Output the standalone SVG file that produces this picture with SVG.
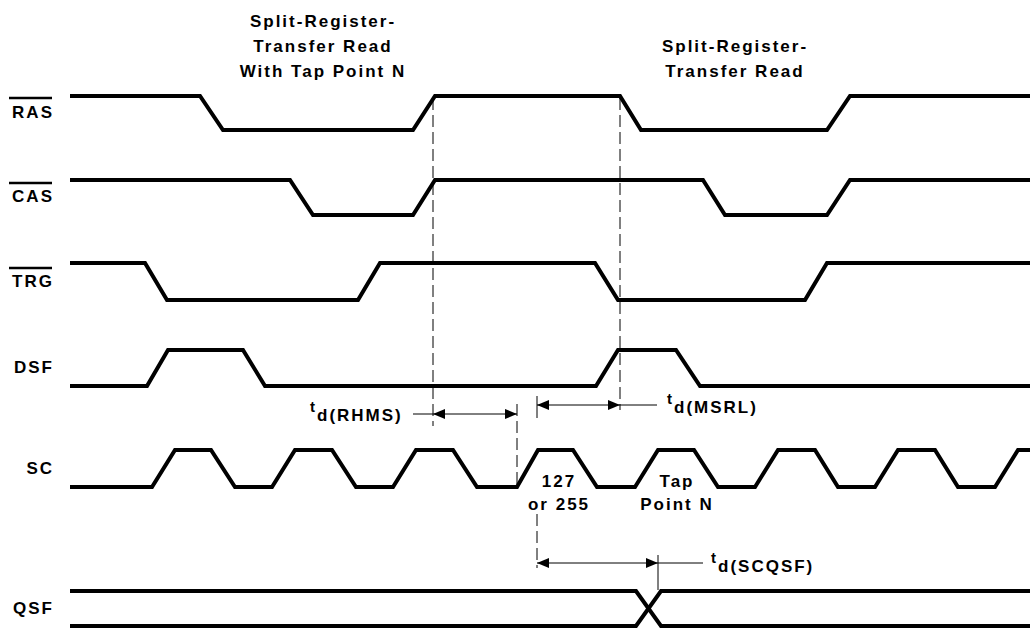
<svg xmlns="http://www.w3.org/2000/svg" width="1030" height="628" viewBox="0 0 1030 628">
<style>
text{font-family:"Liberation Sans",Arial,sans-serif;font-weight:bold;font-size:17px;letter-spacing:2px;fill:#000}
.sig{fill:none;stroke:#000;stroke-width:4;stroke-linejoin:miter}
.ov{stroke:#000;stroke-width:2.5}
.dash{stroke:#000;stroke-width:1;stroke-dasharray:12 5;fill:none}
.tick{stroke:#000;stroke-width:1;fill:none}
.dim{stroke:#000;stroke-width:1;fill:none}
.mid{text-anchor:middle}
.end{text-anchor:end}
.t{font-size:15px}
</style>
<defs>
<marker id="ah" viewBox="0 0 12 10" refX="12" refY="5" markerWidth="12" markerHeight="10" markerUnits="userSpaceOnUse" orient="auto-start-reverse">
<path d="M0,0 L12,5 L0,10 z" fill="#000"/>
</marker>
</defs>
<rect width="1030" height="628" fill="#fff"/>

<g id="titles">
<text class="mid" x="323" y="27">Split-Register-</text>
<text class="mid" x="323" y="52">Transfer Read</text>
<text class="mid" x="323" y="77">With Tap Point N</text>
<text class="mid" x="735" y="52">Split-Register-</text>
<text class="mid" x="735" y="77">Transfer Read</text>
</g>

<g id="RAS">
<line class="ov" x1="9" y1="98" x2="52" y2="98"/>
<text class="end" x="54" y="118">RAS</text>
<path class="sig" d="M70,96 L200,96 L223,130 L413,130 L435,96 L620,96 L641,130 L827,130 L850,96 L1030,96"/>
</g>
<g id="CAS">
<line class="ov" x1="9" y1="183" x2="52" y2="183"/>
<text class="end" x="54" y="202">CAS</text>
<path class="sig" d="M70,180 L290,180 L313,215 L413,215 L435,180 L703,180 L725,215 L827,215 L850,180 L1030,180"/>
</g>
<g id="TRG">
<line class="ov" x1="9" y1="268" x2="52" y2="268"/>
<text class="end" x="54" y="287">TRG</text>
<path class="sig" d="M70,263 L145,263 L167,300 L358,300 L380,263 L595,263 L618,300 L805,300 L827,263 L1030,263"/>
</g>
<g id="DSF">
<text class="end" x="54" y="373">DSF</text>
<path class="sig" d="M70,386 L147,386 L168,350 L243,350 L265,386 L596,386 L618,350 L676,350 L700,386 L1030,386"/>
</g>
<g id="SC">
<text class="end" x="54" y="474">SC</text>
<path class="sig" d="M70,487 L152,487 L175,450 L211,450 L235,487 L272,487 L295,450 L332,450 L356,487 L393,487 L416,450 L453,450 L477,487 L517,487 L538,450 L573,450 L597,487 L635,487 L658,450 L694,450 L718,487 L755,487 L778,450 L815,450 L838,487 L875,487 L898,450 L935,450 L958,487 L995,487 L1018,450 L1030,450"/>
<text class="mid" x="559" y="487">127</text>
<text class="mid" x="559" y="510">or 255</text>
<text class="mid" x="677" y="487">Tap</text>
<text class="mid" x="677" y="510">Point N</text>
</g>
<g id="QSF">
<text class="end" x="54" y="614">QSF</text>
<path class="sig" d="M70,591 L636,591 L661,626 L1030,626"/>
<path class="sig" d="M70,626 L636,626 L661,591 L1030,591"/>
</g>

<g id="connectors">
<line class="dash" x1="433" y1="98" x2="433" y2="426"/>
<line class="dash" x1="620" y1="98" x2="620" y2="410"/>
<line class="dash" x1="517" y1="404" x2="517" y2="487"/>
<line class="tick" x1="537" y1="396" x2="537" y2="418"/>
<line class="dash" x1="537" y1="514" x2="537" y2="568"/>
<line class="tick" x1="658" y1="555" x2="658" y2="590"/>

<line class="dim" x1="433" y1="414" x2="517" y2="414" marker-start="url(#ah)" marker-end="url(#ah)"/>
<line class="dim" x1="413" y1="414" x2="433" y2="414"/>
<line class="dim" x1="537" y1="405" x2="620" y2="405" marker-start="url(#ah)" marker-end="url(#ah)"/>
<line class="dim" x1="620" y1="405" x2="657" y2="405"/>
<line class="dim" x1="537" y1="563" x2="658" y2="563" marker-start="url(#ah)" marker-end="url(#ah)"/>
<line class="dim" x1="658" y1="563" x2="703" y2="563"/>
</g>

<g id="labels">
<text x="310" y="412"><tspan class="t">t</tspan><tspan dy="9">d(RHMS)</tspan></text>
<text x="667" y="404"><tspan class="t">t</tspan><tspan dy="9">d(MSRL)</tspan></text>
<text x="711" y="563"><tspan class="t">t</tspan><tspan dy="9">d(SCQSF)</tspan></text>
</g>
</svg>
